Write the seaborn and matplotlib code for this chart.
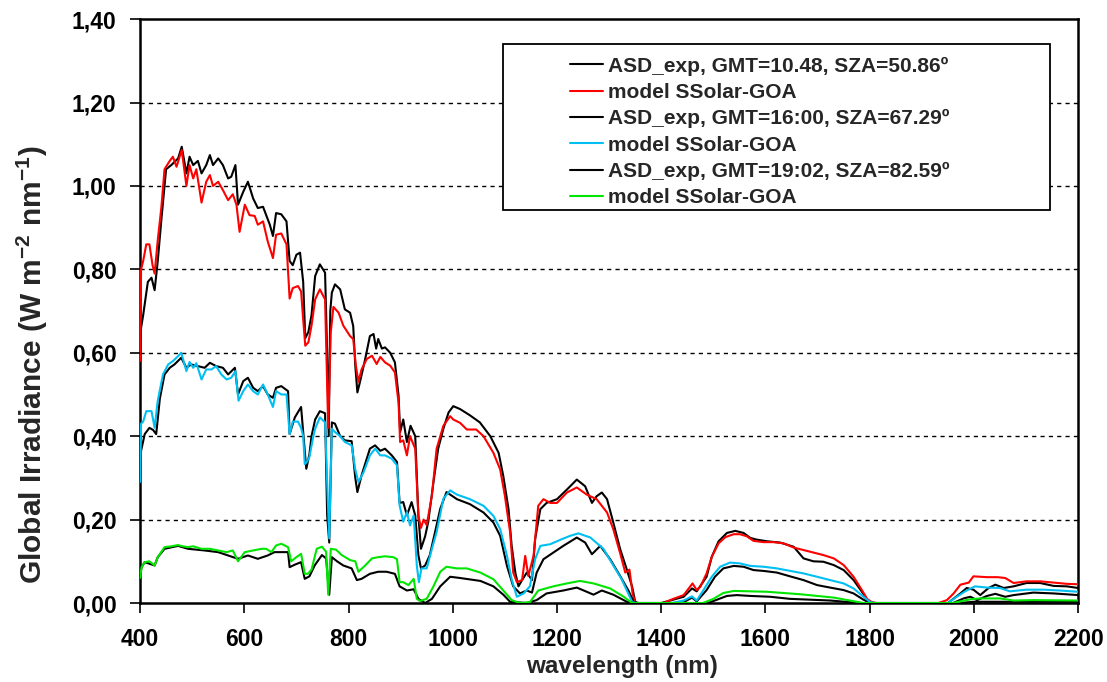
import numpy as np
import pandas as pd
import seaborn as sns
import matplotlib.pyplot as plt
from matplotlib.patches import Rectangle
from matplotlib.ticker import FuncFormatter, MultipleLocator

# Spectra (wavelength in nm, irradiance in W m-2 nm-1)
wl_asd1 = [400, 402, 406, 415, 422, 428, 434, 441, 450, 460, 473, 480, 489, 495, 502, 511, 518, 527, 534, 540,
           550, 559, 569, 575, 583, 588, 598, 607, 617, 626, 636, 642, 649, 655, 661, 671, 681, 687, 693, 700,
           707, 713, 717, 723, 729, 736, 745, 755, 759, 762, 765, 768, 774, 784, 793, 803, 809, 813, 817, 822,
           832, 841, 848, 853, 857, 864, 870, 880, 889, 896, 899, 905, 912, 919, 928, 934, 939, 947, 953, 963,
           972, 982, 992, 1001, 1014, 1033, 1052, 1072, 1088, 1097, 1107, 1113, 1120, 1126, 1133, 1142, 1152,
           1158, 1168, 1180, 1200, 1219, 1238, 1254, 1267, 1276, 1286, 1296, 1308, 1321, 1334, 1344, 1350, 1356,
           1400, 1443, 1459, 1468, 1487, 1497, 1510, 1526, 1542, 1558, 1571, 1583, 1603, 1628, 1654, 1673, 1692,
           1711, 1731, 1750, 1769, 1785, 1798, 1810, 1950, 1974, 1986, 1999, 2012, 2028, 2041, 2057, 2076, 2101,
           2127, 2153, 2178, 2200]
asd1 = [0.60, 0.66, 0.69, 0.77, 0.78, 0.75, 0.82, 0.92, 1.04, 1.05, 1.066, 1.094, 1.03, 1.07, 1.05, 1.06, 1.03,
        1.05, 1.074, 1.05, 1.066, 1.05, 1.018, 1.022, 1.05, 0.955, 0.986, 1.01, 0.97, 0.947, 0.95, 0.93, 0.907,
        0.88, 0.935, 0.932, 0.915, 0.82, 0.81, 0.835, 0.84, 0.77, 0.635, 0.65, 0.69, 0.784, 0.812, 0.792, 0.60,
        0.40, 0.70, 0.744, 0.764, 0.752, 0.704, 0.696, 0.664, 0.569, 0.505, 0.53, 0.585, 0.64, 0.645, 0.61, 0.633,
        0.61, 0.613, 0.60, 0.577, 0.497, 0.41, 0.44, 0.386, 0.425, 0.40, 0.21, 0.13, 0.16, 0.195, 0.29, 0.37,
        0.418, 0.457, 0.472, 0.465, 0.45, 0.433, 0.40, 0.36, 0.304, 0.225, 0.137, 0.073, 0.04, 0.055, 0.073,
        0.055, 0.153, 0.225, 0.24, 0.249, 0.272, 0.296, 0.28, 0.24, 0.256, 0.265, 0.249, 0.193, 0.13, 0.08, 0.04,
        0.003, 0.0, 0.0, 0.015, 0.035, 0.028, 0.063, 0.111, 0.148, 0.168, 0.173, 0.168, 0.156, 0.152, 0.148,
        0.145, 0.135, 0.107, 0.10, 0.099, 0.091, 0.079, 0.055, 0.027, 0.002, 0.0, 0.0, 0.023, 0.036, 0.032, 0.019,
        0.036, 0.044, 0.036, 0.04, 0.048, 0.048, 0.041, 0.04, 0.036]

wl_mod1 = [400, 402, 406, 412, 418, 424, 428, 434, 441, 447, 457, 463, 470, 480, 489, 495, 502, 508, 518, 527,
           534, 540, 550, 559, 569, 578, 585, 591, 601, 610, 620, 626, 636, 645, 655, 661, 671, 681, 687, 693,
           703, 709, 713, 717, 723, 729, 736, 745, 755, 758, 761, 766, 771, 781, 790, 803, 809, 814, 819, 825,
           835, 845, 854, 861, 870, 880, 889, 896, 899, 905, 912, 918, 928, 934, 939, 944, 950, 960, 969, 982,
           995, 1001, 1014, 1027, 1045, 1059, 1078, 1091, 1100, 1110, 1116, 1123, 1133, 1139, 1145, 1155, 1164,
           1174, 1187, 1200, 1219, 1238, 1257, 1276, 1296, 1308, 1321, 1331, 1339, 1345, 1350, 1404, 1423, 1443,
           1455, 1460, 1468, 1475, 1487, 1497, 1510, 1523, 1539, 1551, 1564, 1577, 1596, 1615, 1635, 1654, 1673,
           1692, 1711, 1731, 1750, 1769, 1785, 1795, 1804, 1814, 1932, 1948, 1961, 1974, 1990, 1999, 2025, 2045,
           2060, 2076, 2101, 2127, 2153, 2178, 2200]
mod1 = [0.58, 0.80, 0.82, 0.86, 0.86, 0.81, 0.79, 0.87, 0.95, 1.04, 1.06, 1.07, 1.046, 1.086, 1.0, 1.05, 1.018,
        1.04, 0.96, 1.01, 1.026, 1.0, 1.01, 0.99, 0.966, 0.98, 0.955, 0.89, 0.955, 0.93, 0.928, 0.907, 0.915,
        0.867, 0.827, 0.883, 0.886, 0.86, 0.73, 0.755, 0.76, 0.747, 0.68, 0.617, 0.625, 0.665, 0.728, 0.752,
        0.728, 0.57, 0.42, 0.65, 0.71, 0.696, 0.665, 0.64, 0.633, 0.57, 0.53, 0.56, 0.585, 0.593, 0.573, 0.59,
        0.577, 0.569, 0.553, 0.48, 0.386, 0.39, 0.354, 0.40, 0.37, 0.21, 0.18, 0.20, 0.187, 0.258, 0.37, 0.425,
        0.448, 0.44, 0.432, 0.416, 0.416, 0.40, 0.36, 0.32, 0.257, 0.17, 0.073, 0.05, 0.055, 0.113, 0.065, 0.113,
        0.233, 0.249, 0.24, 0.24, 0.265, 0.277, 0.26, 0.249, 0.217, 0.177, 0.12, 0.073, 0.08, 0.023, 0.0, 0.0,
        0.01, 0.019, 0.039, 0.047, 0.031, 0.039, 0.071, 0.111, 0.143, 0.158, 0.165, 0.165, 0.16, 0.149, 0.146,
        0.146, 0.143, 0.133, 0.127, 0.121, 0.115, 0.107, 0.091, 0.063, 0.031, 0.01, 0.002, 0.0, 0.0, 0.007,
        0.023, 0.044, 0.049, 0.064, 0.062, 0.062, 0.06, 0.048, 0.052, 0.052, 0.049, 0.046, 0.045]

wl_asd2 = [400, 402, 409, 418, 425, 431, 438, 447, 457, 466, 479, 489, 498, 511, 524, 534, 546, 559, 569, 582,
           588, 598, 607, 617, 626, 636, 645, 655, 661, 671, 684, 687, 697, 709, 716, 719, 725, 729, 736, 745,
           755, 759, 763, 768, 774, 784, 793, 806, 813, 817, 825, 841, 851, 861, 870, 883, 893, 898, 905, 912,
           921, 928, 934, 939, 947, 956, 966, 976, 988, 995, 1008, 1033, 1059, 1078, 1091, 1104, 1116, 1129,
           1142, 1152, 1161, 1174, 1193, 1212, 1238, 1254, 1267, 1283, 1302, 1321, 1337, 1347, 1352, 1440, 1459,
           1468, 1487, 1503, 1519, 1539, 1558, 1577, 1596, 1622, 1647, 1673, 1699, 1724, 1750, 1769, 1788, 1801,
           1960, 1980, 1993, 2006, 2025, 2041, 2060, 2076, 2114, 2153, 2200]
asd2 = [0.30, 0.365, 0.405, 0.42, 0.415, 0.405, 0.49, 0.548, 0.564, 0.572, 0.588, 0.564, 0.572, 0.568, 0.564,
        0.576, 0.568, 0.564, 0.548, 0.564, 0.50, 0.532, 0.54, 0.516, 0.508, 0.52, 0.50, 0.492, 0.516, 0.52, 0.508,
        0.405, 0.445, 0.47, 0.365, 0.322, 0.357, 0.40, 0.44, 0.46, 0.455, 0.21, 0.145, 0.433, 0.43, 0.40, 0.39,
        0.388, 0.30, 0.266, 0.306, 0.37, 0.378, 0.365, 0.37, 0.354, 0.338, 0.24, 0.242, 0.21, 0.242, 0.21, 0.115,
        0.083, 0.09, 0.115, 0.17, 0.226, 0.266, 0.26, 0.249, 0.237, 0.217, 0.193, 0.161, 0.089, 0.04, 0.023, 0.03,
        0.025, 0.073, 0.105, 0.121, 0.137, 0.157, 0.145, 0.117, 0.137, 0.105, 0.065, 0.03, 0.003, 0.0, 0.0,
        0.013, 0.004, 0.031, 0.063, 0.083, 0.089, 0.087, 0.079, 0.077, 0.073, 0.064, 0.055, 0.043, 0.037, 0.031,
        0.023, 0.008, 0.0, 0.0, 0.011, 0.015, 0.007, 0.017, 0.022, 0.015, 0.019, 0.025, 0.023, 0.019]

wl_mod2 = [400, 402, 406, 412, 422, 428, 434, 444, 454, 463, 473, 479, 489, 495, 502, 508, 518, 527, 537, 546,
           556, 566, 575, 583, 589, 598, 607, 617, 626, 636, 645, 655, 661, 671, 681, 687, 693, 703, 709, 713,
           716, 720, 725, 732, 736, 745, 755, 759, 763, 768, 774, 784, 793, 806, 813, 819, 829, 841, 851, 861,
           870, 883, 893, 898, 905, 912, 918, 925, 931, 935, 940, 950, 960, 969, 982, 995, 1008, 1033, 1059, 1078,
           1091, 1104, 1113, 1123, 1136, 1148, 1158, 1168, 1187, 1209, 1225, 1241, 1264, 1289, 1308, 1324, 1334,
           1344, 1350, 1420, 1443, 1459, 1468, 1481, 1497, 1513, 1532, 1551, 1571, 1596, 1622, 1647, 1673, 1699,
           1724, 1750, 1769, 1788, 1801, 1810, 1950, 1967, 1983, 2002, 2025, 2050, 2069, 2101, 2134, 2165, 2200]
mod2 = [0.29, 0.43, 0.435, 0.46, 0.46, 0.42, 0.485, 0.548, 0.572, 0.58, 0.592, 0.60, 0.556, 0.578, 0.564, 0.575,
        0.536, 0.56, 0.56, 0.568, 0.548, 0.536, 0.54, 0.556, 0.485, 0.508, 0.524, 0.508, 0.50, 0.524, 0.50, 0.47,
        0.508, 0.50, 0.50, 0.405, 0.435, 0.435, 0.42, 0.40, 0.333, 0.338, 0.35, 0.397, 0.418, 0.445, 0.433, 0.29,
        0.155, 0.418, 0.41, 0.40, 0.386, 0.378, 0.32, 0.29, 0.314, 0.354, 0.37, 0.354, 0.354, 0.346, 0.33, 0.234,
        0.195, 0.218, 0.186, 0.21, 0.09, 0.05, 0.083, 0.083, 0.13, 0.17, 0.25, 0.27, 0.26, 0.249, 0.233, 0.209,
        0.177, 0.113, 0.057, 0.015, 0.023, 0.04, 0.105, 0.137, 0.141, 0.153, 0.161, 0.167, 0.157, 0.13, 0.09,
        0.057, 0.03, 0.003, 0.0, 0.0, 0.006, 0.016, 0.006, 0.031, 0.063, 0.087, 0.097, 0.095, 0.089, 0.087, 0.083,
        0.077, 0.071, 0.063, 0.055, 0.047, 0.035, 0.015, 0.002, 0.0, 0.0, 0.015, 0.028, 0.04, 0.037, 0.036, 0.028,
        0.032, 0.032, 0.03, 0.027]

wl_asd3 = [400, 403, 409, 428, 434, 447, 473, 492, 524, 550, 569, 588, 607, 626, 645, 658, 684, 687, 697, 709,
           716, 725, 735, 749, 757, 763, 768, 778, 790, 806, 816, 825, 841, 857, 873, 889, 898, 912, 925, 934,
           947, 960, 976, 995, 1014, 1053, 1078, 1097, 1110, 1142, 1161, 1180, 1212, 1238, 1257, 1270, 1286,
           1308, 1334, 1347, 1490, 1507, 1526, 1545, 1571, 1609, 1647, 1686, 1724, 1762, 1782, 1970, 2000, 2200]
asd3 = [0.065, 0.086, 0.098, 0.09, 0.11, 0.13, 0.137, 0.13, 0.126, 0.122, 0.114, 0.106, 0.114, 0.106, 0.114,
        0.122, 0.122, 0.086, 0.092, 0.098, 0.058, 0.064, 0.09, 0.115, 0.107, 0.02, 0.11, 0.10, 0.09, 0.083, 0.055,
        0.058, 0.07, 0.075, 0.075, 0.07, 0.04, 0.03, 0.033, 0.01, 0.0, 0.01, 0.04, 0.063, 0.06, 0.053, 0.04, 0.02,
        0.003, 0.0, 0.007, 0.023, 0.03, 0.037, 0.027, 0.02, 0.03, 0.02, 0.003, 0.0, 0.0, 0.008, 0.017, 0.019,
        0.017, 0.015, 0.01, 0.008, 0.006, 0.002, 0.0, 0.0, 0.003, 0.003]

wl_mod3 = [400, 403, 409, 418, 428, 434, 447, 460, 473, 482, 492, 502, 518, 534, 550, 566, 578, 588, 601, 617,
           633, 642, 652, 661, 671, 684, 690, 700, 709, 716, 722, 729, 739, 749, 757, 761, 766, 776, 787, 803,
           813, 819, 832, 845, 857, 870, 886, 893, 898, 905, 915, 925, 931, 937, 950, 963, 976, 988, 1008, 1027,
           1053, 1078, 1097, 1113, 1129, 1148, 1164, 1193, 1219, 1244, 1270, 1302, 1328, 1344, 1480, 1500, 1519,
           1539, 1571, 1603, 1635, 1667, 1699, 1731, 1762, 1788, 1960, 1993, 2012, 2050, 2076, 2114, 2200]
mod3 = [0.06, 0.086, 0.098, 0.10, 0.09, 0.11, 0.134, 0.136, 0.139, 0.136, 0.134, 0.136, 0.13, 0.13, 0.126, 0.122,
        0.126, 0.10, 0.122, 0.126, 0.13, 0.13, 0.122, 0.138, 0.142, 0.134, 0.10, 0.11, 0.118, 0.07, 0.07, 0.08,
        0.13, 0.135, 0.123, 0.02, 0.13, 0.128, 0.115, 0.103, 0.10, 0.075, 0.09, 0.107, 0.11, 0.112, 0.11, 0.105,
        0.05, 0.05, 0.043, 0.058, 0.01, 0.005, 0.01, 0.04, 0.075, 0.087, 0.083, 0.083, 0.073, 0.057, 0.03, 0.007,
        0.0, 0.002, 0.03, 0.04, 0.047, 0.053, 0.047, 0.035, 0.015, 0.0, 0.0, 0.01, 0.024, 0.029, 0.028, 0.027,
        0.024, 0.021, 0.017, 0.013, 0.006, 0.0, 0.0, 0.009, 0.011, 0.011, 0.006, 0.007, 0.006]

labels = ["ASD_exp, GMT=10.48, SZA=50.86º", "model SSolar-GOA",
          "ASD_exp, GMT=16:00, SZA=67.29º", "model SSolar-GOA",
          "ASD_exp, GMT=19:02, SZA=82.59º", "model SSolar-GOA"]
colors = ["black", "#ff0000", "black", "#00bff3", "black", "#00e600"]

series = [(wl_asd1, asd1), (wl_mod1, mod1), (wl_asd2, asd2),
          (wl_mod2, mod2), (wl_asd3, asd3), (wl_mod3, mod3)]

sns.set_style("ticks")
plt.rcParams['font.family'] = ['Liberation Sans', 'DejaVu Sans']
plt.rcParams['font.weight'] = 'bold'
plt.rcParams['mathtext.fontset'] = 'custom'
plt.rcParams['mathtext.rm'] = 'Liberation Sans:bold'
plt.rcParams['mathtext.bf'] = 'Liberation Sans:bold'

fig, ax = plt.subplots(figsize=(11.07, 6.82), dpi=100)
fig.subplots_adjust(left=0.1265, right=0.974, bottom=0.1158, top=0.972)

for (x, y), lab, col in zip(series, labels, colors):
    df = pd.DataFrame({"wavelength": x, "irradiance": y})
    sns.lineplot(data=df, x="wavelength", y="irradiance", color=col, lw=1.5,
                 label=lab, ax=ax, legend=False, zorder=3)

ax.set_xlim(400, 2200)
ax.set_ylim(0, 1.40)
ax.xaxis.set_major_locator(MultipleLocator(200))
ax.yaxis.set_major_locator(MultipleLocator(0.2))
ax.yaxis.set_major_formatter(FuncFormatter(lambda v, p: f"{v:.2f}".replace(".", ",")))

for yv in np.arange(0.2, 1.3, 0.2):
    ax.axhline(yv, color="black", lw=1, ls=(0, (3, 3)), zorder=1)

for s in ax.spines.values():
    s.set_linewidth(1.8)
    s.set_color("black")

ax.tick_params(axis="both", direction="out", length=7, width=1.2, color="black",
               labelsize=16.5, labelcolor="black")
ax.tick_params(axis="x", pad=11)
ax.tick_params(axis="y", pad=10)

ax.set_xlabel("wavelength (nm)", fontsize=17.5, fontweight="bold")
ax.xaxis.set_label_coords(0.514, -0.089)
ax.set_ylabel(r"Global Irradiance (W m$^{\mathbf{-2}}$ nm$^{\mathbf{-1}}$)", fontsize=21.5, fontweight="bold")
ax.yaxis.set_label_coords(-0.096, 0.408)

# legend: frame drawn separately to keep the empty left margin of the box
box = Rectangle((0.387, 0.673), 0.583, 0.284, transform=ax.transAxes, facecolor="white",
                edgecolor="black", lw=1.3, zorder=4)
ax.add_patch(box)
handles, labs = ax.get_legend_handles_labels()
leg = ax.legend(handles, labs, loc="upper left", bbox_to_anchor=(0.4584, 0.936), frameon=False,
                fontsize=15, handlelength=1.6, handletextpad=0.2, labelspacing=0.35, borderpad=0,
                borderaxespad=0)
leg.set_zorder(5)

fig.savefig("out.png", dpi=100)
